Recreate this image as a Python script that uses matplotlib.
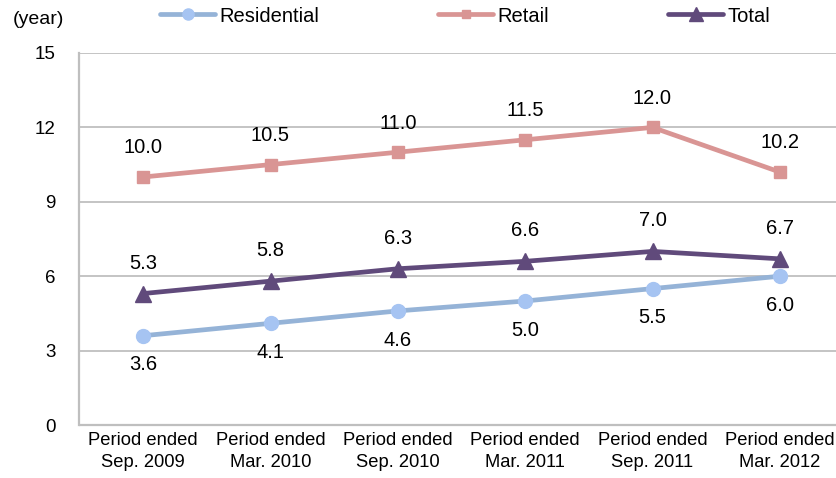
import matplotlib
matplotlib.use("Agg")
import matplotlib.pyplot as plt
from matplotlib.lines import Line2D

plt.rcParams['font.family'] = ['Liberation Sans', 'DejaVu Sans']

categories = ["Period ended\nSep. 2009", "Period ended\nMar. 2010", "Period ended\nSep. 2010",
              "Period ended\nMar. 2011", "Period ended\nSep. 2011", "Period ended\nMar. 2012"]
residential = [3.6, 4.1, 4.6, 5.0, 5.5, 6.0]
retail = [10.0, 10.5, 11.0, 11.5, 12.0, 10.2]
total = [5.3, 5.8, 6.3, 6.6, 7.0, 6.7]
y_ticks = [0, 3, 6, 9, 12, 15]

fig = plt.figure(figsize=(8.37, 4.78), dpi=100)
ax = fig.add_axes([79.5 / 837, 1 - 425 / 478, 764 / 837, 372 / 478])

x = list(range(len(categories)))

series = [
    ("Residential", residential, "#95B3D7", "#A6C4F2", "o", 10, -21),
    ("Retail", retail, "#D99594", "#D99594", "s", 8, 21),
    ("Total", total, "#604A7B", "#604A7B", "^", 12, 22),
]

handles = []
for name, vals, lc, mc, mk, ms, off in series:
    ax.plot(x, vals, color=lc, lw=3.4, marker=mk, markersize=ms,
            markerfacecolor=mc, markeredgecolor=mc, solid_capstyle="round", zorder=3,
            clip_on=False)
    for xi, v in zip(x, vals):
        ax.annotate(f"{v:.1f}", (xi, v), xytext=(0, off), textcoords="offset points",
                    ha="center", va="center", fontsize=14.5, color="black")
    handles.append(Line2D([], [], color=lc, lw=3.4, marker=mk, markersize=ms * 0.8,
                          markerfacecolor=mc, markeredgecolor=mc, solid_capstyle="round",
                          label=name))

ax.set_xlim(-0.5, len(categories) - 0.5)
ax.set_ylim(0, 15)
ax.set_yticks(y_ticks)
ax.set_xticks(x)
ax.set_xticklabels(categories, fontsize=13.2, linespacing=1.38)
ax.tick_params(axis="y", length=0, pad=17, labelsize=13.5)
ax.tick_params(axis="x", length=0, pad=5)
ax.grid(axis="y", color="#BFBFBF", lw=1.3)
ax.set_axisbelow(True)
for s in ["top", "right"]:
    ax.spines[s].set_visible(False)
for s in ["left", "bottom"]:
    ax.spines[s].set_color("#BFBFBF")
    ax.spines[s].set_linewidth(1.6)

fig.text(13 / 837, 1 - 19 / 478, "(year)", fontsize=14, va="center", ha="left")

fs = 14.5
fig.legend(handles=handles, loc="center left", bbox_to_anchor=(160 / 837, 1 - 16 / 478),
           ncol=3, frameon=False, fontsize=fs, handlelength=2.75, handletextpad=0.2,
           columnspacing=5.9, borderpad=0, borderaxespad=0)

fig.savefig("out.png", dpi=100)
